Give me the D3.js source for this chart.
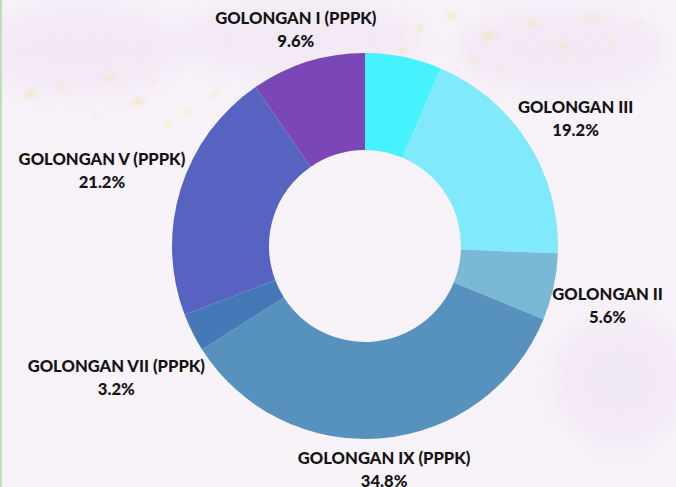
<!DOCTYPE html>
<html>
<head>
<meta charset="utf-8">
<script src="https://cdn.jsdelivr.net/npm/d3@7"></script>
<style>
  html, body { margin: 0; padding: 0; }
  body { width: 676px; height: 487px; overflow: hidden; background: #f7f2f8; }
  svg { display: block; }
</style>
</head>
<body>
<svg id="chart" width="676" height="487"></svg>
<script>
// ---- data ----
const categories = ["GOLONGAN X", "GOLONGAN III", "GOLONGAN II", "GOLONGAN IX (PPPK)", "GOLONGAN VII (PPPK)", "GOLONGAN V (PPPK)", "GOLONGAN I (PPPK)"];
const values = [6.4, 19.2, 5.6, 34.8, 3.2, 21.2, 9.6];
const showLabel = [false, true, true, true, true, true, true];
const colors = ["#46f2fe", "#81e9fc", "#7ab9d6", "#5692bd", "#4478b6", "#5763c0", "#7b47b7"];

const W = 676, H = 487;
const cx = 365, cy = 246, R = 193, r0 = 96;

const svg = d3.select("#chart");

// ---- background ----
const defs = svg.append("defs");
const blur = defs.append("filter").attr("id", "blur").attr("x", "-50%").attr("y", "-50%").attr("width", "200%").attr("height", "200%");
blur.append("feGaussianBlur").attr("stdDeviation", 16);
const blur2 = defs.append("filter").attr("id", "blur2").attr("x", "-50%").attr("y", "-50%").attr("width", "200%").attr("height", "200%");
blur2.append("feGaussianBlur").attr("stdDeviation", 2);

svg.append("rect").attr("width", W).attr("height", H).attr("fill", "#f8f3f9");
const bg = svg.append("g");
[[80, 50, 100, 50], [300, 40, 130, 40], [560, 50, 110, 45], [620, 380, 70, 70]].forEach(([x, y, rx, ry]) => {
  bg.append("ellipse").attr("cx", x).attr("cy", y).attr("rx", rx).attr("ry", ry)
    .attr("fill", "#eee3f1").attr("opacity", 0.6).attr("filter", "url(#blur)");
});
const speck = bg.append("g").attr("filter", "url(#blur2)").attr("fill", "#f3e3a0").attr("opacity", 0.5);
[[30, 95, 6, 4], [62, 88, 3, 3], [110, 78, 5, 3], [138, 102, 7, 4], [152, 82, 3, 2], [190, 112, 5, 3], [215, 95, 3, 3], [168, 125, 4, 3],
 [95, 118, 3, 2], [420, 28, 4, 3], [452, 16, 6, 4], [488, 36, 7, 4], [532, 22, 6, 3], [562, 46, 4, 3], [592, 16, 5, 3], [612, 42, 3, 3],
 [640, 22, 3, 2], [502, 70, 3, 2], [472, 60, 4, 2], [402, 50, 4, 3], [250, 106, 3, 2]].forEach(([x, y, rx, ry]) => {
  speck.append("ellipse").attr("cx", x).attr("cy", y).attr("rx", rx).attr("ry", ry);
});
svg.append("rect").attr("x", 0).attr("y", 0).attr("width", 2).attr("height", H).attr("fill", "#bfe0b6");

// ---- pie ----
const pie = d3.pie().sort(null).value(d => d).startAngle(0).endAngle(2 * Math.PI);
const arcs = pie(values);
const arc = d3.arc().innerRadius(r0).outerRadius(R);

const g = svg.append("g").attr("transform", `translate(${cx},${cy})`);
g.selectAll("path").data(arcs).join("path")
  .attr("d", arc)
  .attr("fill", (d, i) => colors[i]);

// ---- labels ----
const fontFamily = "Lato, 'Open Sans', sans-serif";
const lineGap = 23;
const labels = g.selectAll("g.lbl").data(arcs.filter((d, i) => showLabel[i])).join("g").attr("class", "lbl");
labels.each(function (d) {
  const i = d.index;
  const sel = d3.select(this);
  const t1 = sel.append("text").text(categories[i]);
  const t2 = sel.append("text").text(values[i].toFixed(1) + "%");
  sel.selectAll("text")
    .attr("text-anchor", "middle")
    .attr("font-family", fontFamily)
    .attr("font-weight", 900)
    .attr("font-size", 16.6)
    .attr("fill", "#141414");
  const w = Math.max(t1.node().getComputedTextLength(), t2.node().getComputedTextLength());
  const h = 40;
  const a = (d.startAngle + d.endAngle) / 2;
  const vx = Math.sin(a), vy = -Math.cos(a);
  const ext = Math.abs(vx) * w / 2 + Math.abs(vy) * h / 2;
  const rl = R + ext - 3;
  const x = rl * vx, y = rl * vy;
  t1.attr("x", x).attr("y", y + 1);
  t2.attr("x", x).attr("y", y + 1 + lineGap);
});
</script>
</body>
</html>
